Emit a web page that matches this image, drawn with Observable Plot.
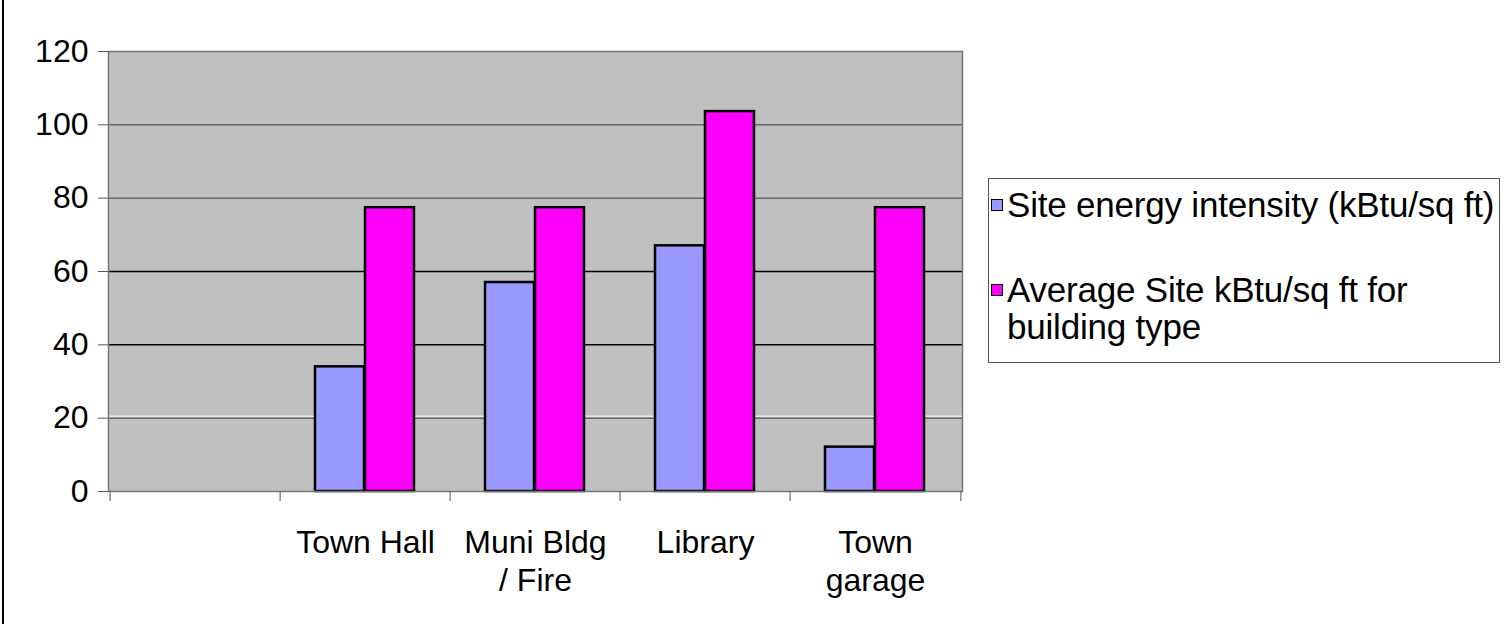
<!DOCTYPE html>
<html>
<head>
<meta charset="utf-8">
<script src="https://cdn.jsdelivr.net/npm/d3@7"></script>
<script src="https://cdn.jsdelivr.net/npm/@observablehq/plot@0.6"></script>
<style>
  html, body { margin: 0; padding: 0; background: white; }
  #wrap { position: relative; width: 1509px; height: 624px; overflow: hidden; font-family: "Liberation Sans", Arial, sans-serif; }
  #border { position: absolute; left: 2px; top: 0; width: 1.5px; height: 624px; background: #000; }
  #legend { position: absolute; left: 988px; top: 178px; width: 512px; height: 185px; border: 1.5px solid #555; box-sizing: border-box; }
  .item { position: absolute; left: 0; font-size: 35px; line-height: 37px; color: #000; letter-spacing: -0.2px; }
  .sw { position: absolute; width: 10px; height: 10px; border: 1.5px solid #000; }
  .txt { position: absolute; left: 18px; white-space: nowrap; }
</style>
</head>
<body>
<div id="wrap"><div id="border"></div></div>
<script>
const categories = ["", "Town Hall", "Muni Bldg\n/ Fire", "Library", "Town\ngarage"];
const seriesNames = ["Site energy intensity (kBtu/sq ft)", "Average Site kBtu/sq ft for\nbuilding type"];
const siteValues = [null, 34, 57, 67, 12.1];
const avgValues = [null, 77.4, 77.4, 103.6, 77.4];
const yTicks = [0, 20, 40, 60, 80, 100, 120];
const colors = ["#9999ff", "#ff00ff"];

const siteRows = categories.map((c, i) => ({category: c, value: siteValues[i]}));
const avgRows = categories.map((c, i) => ({category: c, value: avgValues[i]}));

const chart = Plot.plot({
  width: 1509,
  height: 624,
  marginLeft: 108,
  marginRight: 547,
  marginTop: 51,
  marginBottom: 133,
  x: {domain: categories, padding: 0, axis: null},
  y: {domain: [0, 120], axis: null},
  style: {fontFamily: "'Liberation Sans', Arial, sans-serif", fontSize: "32px", color: "black", background: "transparent", overflow: "visible"},
  marks: [
    Plot.frame({fill: "#c0c0c0"}),
    Plot.ruleY(yTicks.filter(t => t === 40 || t === 60), {stroke: "black", strokeWidth: 1.5}),
    Plot.ruleY(yTicks.filter(t => t === 80 || t === 100), {stroke: "#666", strokeWidth: 1.5}),
    Plot.ruleY(yTicks.filter(t => t === 20), {stroke: "#666", strokeWidth: 1.5}),
    Plot.ruleY(yTicks.filter(t => t === 20), {stroke: "white", strokeWidth: 1, dy: -2}),
    Plot.barY(siteRows, {x: "category", y: "value", fill: colors[0], stroke: "black", strokeWidth: 2.5, insetLeft: 35, insetRight: 86}),
    Plot.barY(avgRows, {x: "category", y: "value", fill: colors[1], stroke: "black", strokeWidth: 2.5, insetLeft: 85, insetRight: 36}),
    Plot.frame({stroke: "#777", strokeWidth: 1.5}),
    Plot.axisY({ticks: yTicks, label: null, tickSize: 10, tickPadding: 10, stroke: "#555", fontSize: 32}),
    Plot.axisX({ticks: categories, label: null, tickSize: 0, tickPadding: 34, lineHeight: 1.2, fontSize: 32}),
    Plot.axisX({ticks: categories, label: null, tickSize: 10, tickFormat: () => "", dx: -85.4, stroke: "#555"}),
    Plot.axisX({ticks: [categories[categories.length - 1]], label: null, tickSize: 10, tickFormat: () => "", dx: 85.4, stroke: "#555"})
  ]
});
chart.style.position = "absolute";
chart.style.left = "0";
chart.style.top = "0";
const wrap = document.getElementById("wrap");
wrap.appendChild(chart);

// legend (HTML overlay at right of plot)
const legend = document.createElement("div");
legend.id = "legend";
const itemTops = [7, 92];
seriesNames.forEach((name, i) => {
  const item = document.createElement("div");
  item.className = "item";
  item.style.top = itemTops[i] + "px";
  const sw = document.createElement("div");
  sw.className = "sw";
  sw.style.background = colors[i];
  sw.style.left = "2px";
  sw.style.top = "13px";
  const txt = document.createElement("div");
  txt.className = "txt";
  txt.innerHTML = name.split("\n").join("<br>");
  item.appendChild(sw);
  item.appendChild(txt);
  legend.appendChild(item);
});
wrap.appendChild(legend);
</script>
</body>
</html>
